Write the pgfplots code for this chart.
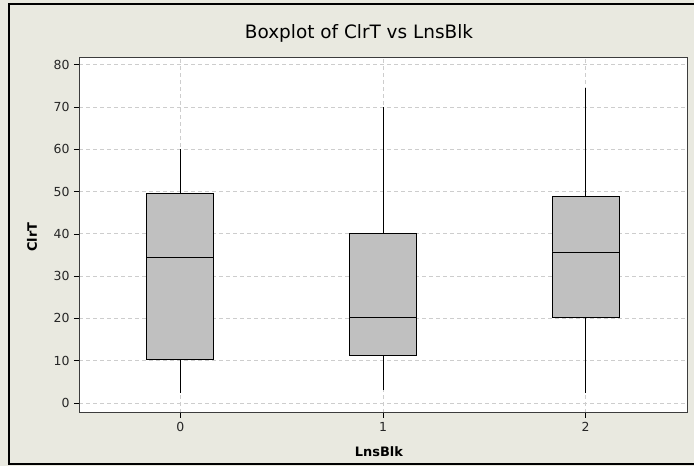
\documentclass[border=0pt]{standalone}
\usepackage{fontspec}
\setmainfont{DejaVu Sans}
\usepackage{pgfplots}
\pgfplotsset{compat=1.18}
\usepgfplotslibrary{statistics}

\definecolor{panelbg}{RGB}{233,233,224}
\definecolor{boxfill}{RGB}{192,192,192}
\definecolor{gridc}{RGB}{205,205,205}
\definecolor{framec}{RGB}{60,60,60}

\begin{document}
\begin{tikzpicture}[x=1bp,y=1bp]
	% page area = 694 x 466 px, axis box sits at (79,53) from the bottom left
	\fill[panelbg] (-79,-53) rectangle (615,413);
	\useasboundingbox (-79,-53) rectangle (615,413);
	\begin{scope}
		\clip (-79,-53) rectangle (615,413);
		\draw[black, line width=1.6bp] (-70,-51) rectangle (640,409);
	\end{scope}
	\begin{axis}[
			at={(0,0)}, anchor=south west,
			scale only axis,
			width=608bp, height=355bp,
			xmin=-0.5, xmax=2.5,
			ymin=-2.4, ymax=81.6,
			xtick={0,1,2},
			ytick={0,10,...,80},
			tick pos=left,
			tick align=outside,
			major tick length=5bp,
			tick style={black, line width=0.6bp},
			axis line style={framec, line width=1bp},
			axis background/.style={fill=white},
			grid=major,
			major grid style={gridc, dashed, dash pattern=on 4bp off 3bp, line width=0.7bp},
			ticklabel style={font=\fontsize{12.5}{13}\selectfont, text=black!85},
			xticklabel style={yshift=-1bp},
			yticklabel style={xshift=-1bp},
			/pgf/number format/assume math mode=true,
			boxplot/draw direction=y,
		]
		\addplot[draw=black, line width=0.9bp, fill=boxfill,
			boxplot prepared={
				lower whisker=2.4, lower quartile=10.2, median=34.3,
				upper quartile=49.6, upper whisker=60,
				draw position=0, box extend=0.33, whisker extend=0}]
			coordinates {};
		\addplot[draw=black, line width=0.9bp, fill=boxfill,
			boxplot prepared={
				lower whisker=3.1, lower quartile=11.3, median=20.1,
				upper quartile=40.2, upper whisker=70,
				draw position=1, box extend=0.33, whisker extend=0}]
			coordinates {};
		\addplot[draw=black, line width=0.9bp, fill=boxfill,
			boxplot prepared={
				lower whisker=2.4, lower quartile=20.1, median=35.7,
				upper quartile=48.9, upper whisker=74.6,
				draw position=2, box extend=0.33, whisker extend=0}]
			coordinates {};
	\end{axis}
	\node[font=\fontsize{18.5}{20}\selectfont] at (280,380) {Boxplot of ClrT vs LnsBlk};
	\node[font=\bfseries\fontsize{13}{14}\selectfont, rotate=90] at (-47,176) {ClrT};
	\node[font=\bfseries\fontsize{13}{14}\selectfont] at (300,-39) {LnsBlk};
\end{tikzpicture}
\end{document}
